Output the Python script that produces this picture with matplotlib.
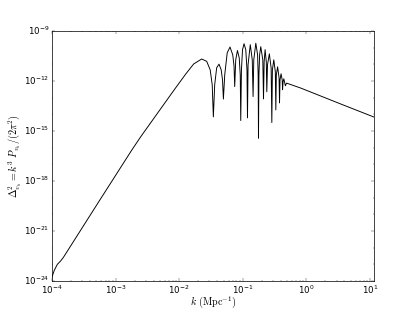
import numpy as np
import matplotlib
matplotlib.use('Agg')
import matplotlib.pyplot as plt
from matplotlib.ticker import LogLocator, NullFormatter

# values, as log10(k) and log10(Delta^2)
log_k = [-4.000, -3.964, -3.916, -3.869, -3.822, -3.238, -2.744, -2.607,
         -2.344, -2.082, -1.897, -1.771, -1.645, -1.566, -1.511, -1.479,
         -1.461, -1.440, -1.409, -1.372, -1.338, -1.317, -1.303, -1.282,
         -1.243, -1.199, -1.156, -1.136, -1.125, -1.109, -1.082, -1.054,
         -1.038, -1.030, -1.019, -1.002, -0.978, -0.951, -0.932, -0.924,
         -0.915, -0.880, -0.849, -0.836, -0.825, -0.793, -0.765, -0.756,
         -0.751, -0.744, -0.733, -0.715, -0.683, -0.672, -0.662, -0.647,
         -0.628, -0.620, -0.609, -0.580, -0.552, -0.541, -0.532, -0.510,
         -0.486, -0.478, -0.470, -0.450, -0.427, -0.420, -0.412, -0.396,
         -0.378, -0.372, -0.364, -0.352, -0.328, -0.309, -0.084, 0.547,
         1.073]
log_delta = [-23.77, -23.37, -23.01, -22.83, -22.60, -19.09, -16.14, -15.36,
             -13.95, -12.55, -11.58, -10.97, -10.67, -10.81, -11.32, -12.22,
             -14.15, -12.22, -11.20, -10.98, -11.32, -11.92, -13.08, -11.62,
             -10.30, -9.95, -10.42, -11.08, -12.33, -10.72, -10.16, -10.60,
             -11.62, -14.37, -11.32, -10.11, -9.75, -10.11, -11.32, -14.21,
             -11.02, -9.81, -10.72, -12.93, -10.72, -9.72, -10.42, -11.62,
             -15.43, -11.62, -10.42, -9.93, -10.72, -13.07, -10.84, -10.11,
             -10.84, -12.64, -11.02, -10.36, -11.20, -14.49, -11.32, -10.72,
             -11.44, -13.73, -11.62, -11.14, -11.80, -13.31, -11.92, -11.56,
             -11.92, -12.52, -12.04, -11.86, -12.28, -12.12, -12.42, -13.38,
             -14.17]
y_ticks = [1e-24, 1e-21, 1e-18, 1e-15, 1e-12, 1e-9]

k = 10.0 ** np.array(log_k)
delta = 10.0 ** np.array(log_delta)

plt.style.use('classic')
fig = plt.figure(figsize=(8, 6), dpi=52)
ax = fig.add_subplot(111)
ax.loglog(k, delta, 'k-', lw=1.3)
ax.set_xlim(1e-4, k[-1])
ax.set_ylim(1e-24, 1e-9)
ax.set_yticks(y_ticks)
ax.yaxis.set_minor_locator(LogLocator(base=10.0, subs=[1.0], numticks=30))
ax.yaxis.set_minor_formatter(NullFormatter())
ax.set_xlabel(r'$k\ (\mathrm{Mpc}^{-1})$', fontsize=14, labelpad=-2)
ax.set_ylabel(r'$\Delta^2_{v_b} = k^3\ P_{v_b}/(2\pi^2)$', fontsize=14, labelpad=0)
fig.savefig('out.png', dpi=52)
